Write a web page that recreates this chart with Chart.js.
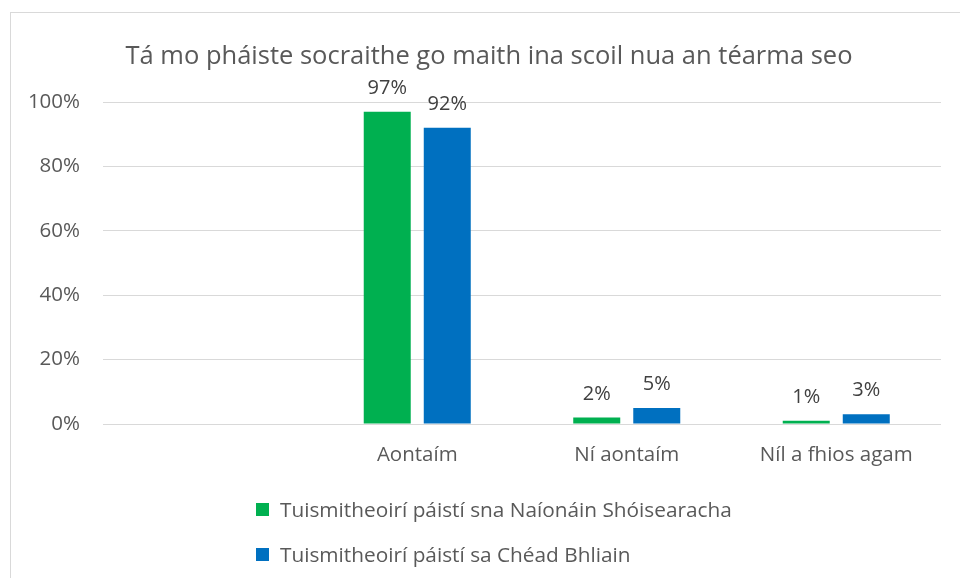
<!DOCTYPE html>
<html>
<head>
<meta charset="utf-8">
<script src="https://cdn.jsdelivr.net/npm/chart.js@4"></script>
<style>
  body { margin: 0; background: #fff; }
  #wrap { position: relative; width: 960px; height: 578px; overflow: hidden; }
  #frame { position: absolute; left: 10px; top: 12px; width: 1000px; height: 600px;
           border-left: 1px solid #d9d9d9; border-top: 1px solid #d9d9d9; }
  #chart { position: absolute; left: 0; top: 0; }
  #legend { position: absolute; left: 256px; top: 496px; font-family: "Open Sans", sans-serif;
            font-size: 20.8px; color: #595959; }
  .item { display: flex; align-items: center; height: 26px; margin-bottom: 19px; }
  .box { width: 13px; height: 13px; margin-right: 11px; }
</style>
</head>
<body>
<div id="wrap">
  <div id="frame"></div>
  <canvas id="chart" width="960" height="578"></canvas>
  <div id="legend"></div>
</div>
<script>
const categories = ['', 'Aontaím', 'Ní aontaím', 'Níl a fhios agam'];
const seriesNames = ['Tuismitheoirí páistí sna Naíonáin Shóisearacha', 'Tuismitheoirí páistí sa Chéad Bhliain'];
const juniorInfants = [null, 97, 2, 1];
const firstClass = [null, 92, 5, 3];
const yTicks = [0, 20, 40, 60, 80, 100];
const colors = ['#00B050', '#0070C0'];

const textColor = '#595959';
const fontFamily = '"Open Sans", sans-serif';

// value labels above each bar
const barLabels = {
  id: 'barLabels',
  afterLayout(chart) {
    // let the y tick labels run into the left padding instead of being clipped
    chart.scales.y.left = 0;
  },
  afterDatasetsDraw(chart) {
    const ctx = chart.ctx;
    ctx.save();
    ctx.font = '20px ' + fontFamily;
    ctx.fillStyle = '#404040';
    ctx.textAlign = 'center';
    ctx.textBaseline = 'alphabetic';
    chart.data.datasets.forEach((ds, i) => {
      chart.getDatasetMeta(i).data.forEach((bar, j) => {
        const v = ds.data[j];
        if (v === null) return;
        ctx.fillText(v + '%', bar.x, bar.y - 18);
      });
    });
    ctx.restore();
  }
};

const chart = new Chart(document.getElementById('chart'), {
  type: 'bar',
  data: {
    labels: categories,
    datasets: [
      { label: seriesNames[0], data: juniorInfants, backgroundColor: colors[0] },
      { label: seriesNames[1], data: firstClass, backgroundColor: colors[1] }
    ]
  },
  options: {
    responsive: false,
    animation: false,
    categoryPercentage: 0.573,
    barPercentage: 0.783,
    layout: { padding: { left: 37, right: 19, top: 0, bottom: 104 } },
    scales: {
      x: {
        grid: { display: false },
        border: { display: false },
        ticks: { color: textColor, font: { family: fontFamily, size: 20.5 }, padding: 11, maxRotation: 0 },
        afterFit(scale) { scale.height = 50; }
      },
      y: {
        min: 0,
        max: 100,
        afterBuildTicks(scale) { scale.ticks = yTicks.map(v => ({ value: v })); },
        grid: { color: '#d9d9d9', drawTicks: false },
        border: { display: false },
        ticks: { color: textColor, font: { family: fontFamily, size: 20.5 }, padding: 23,
                 callback: v => v + '%' },
        afterFit(scale) { scale.width = 66; }
      }
    },
    plugins: {
      legend: { display: false },
      tooltip: { enabled: false },
      title: {
        display: true,
        text: 'Tá mo pháiste socraithe go maith ina scoil nua an téarma seo',
        color: textColor,
        font: { family: fontFamily, size: 25.5, weight: 'normal' },
        padding: { top: 41, bottom: 30.4 }
      }
    }
  },
  plugins: [barLabels]
});

const legend = document.getElementById('legend');
chart.data.datasets.forEach(ds => {
  const item = document.createElement('div');
  item.className = 'item';
  const box = document.createElement('span');
  box.className = 'box';
  box.style.background = ds.backgroundColor;
  const txt = document.createElement('span');
  txt.textContent = ds.label;
  item.appendChild(box);
  item.appendChild(txt);
  legend.appendChild(item);
});
</script>
</body>
</html>
